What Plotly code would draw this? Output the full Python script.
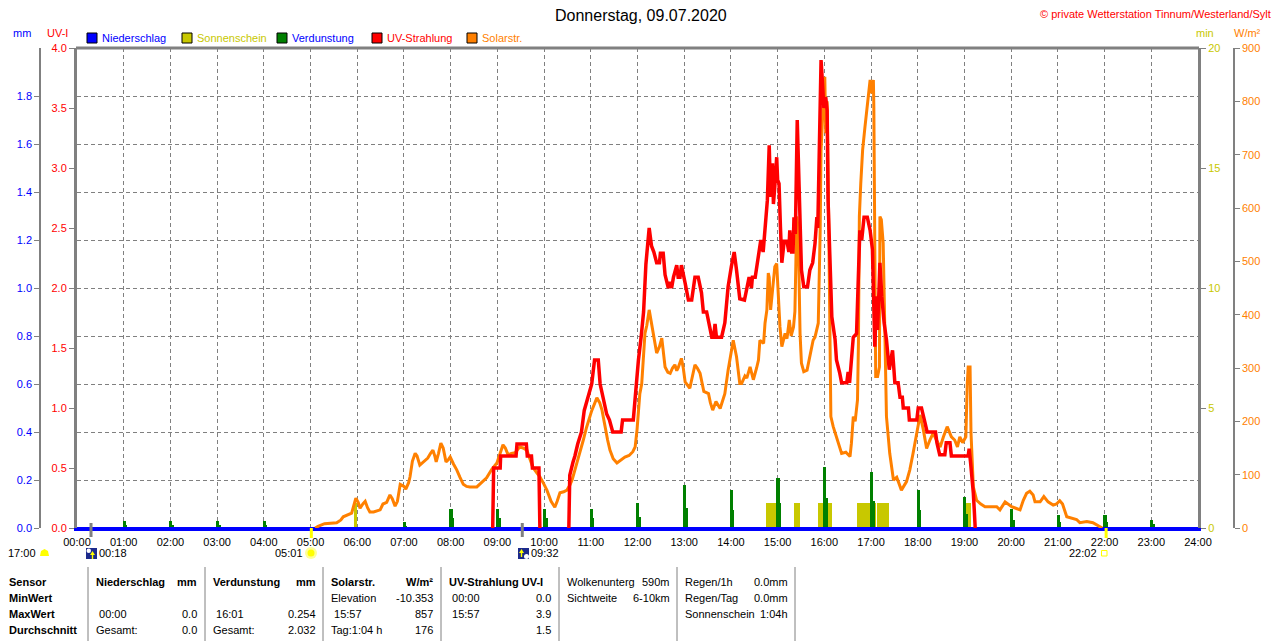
import plotly.graph_objects as go

# Die Seite hat 8px Rand: Figur etwas kleiner und alle Pixelpositionen um 8px verschieben
OFF = 8
W, H = 1280 - OFF, 641 - OFF
FONT = "Liberation Sans, Arial, sans-serif"
GREY = "#808080"
OLIVE = "#c8c800"
ORANGE = "#ff8000"

# ---------------------------------------------------------------- Daten
hour_labels = ["%02d:00" % h for h in range(25)]
mm_ticks = [0.0, 0.2, 0.4, 0.6, 0.8, 1.0, 1.2, 1.4, 1.6, 1.8]
uv_ticks = [0.0, 0.5, 1.0, 1.5, 2.0, 2.5, 3.0, 3.5, 4.0]
min_ticks = [0, 5, 10, 15, 20]
wm2_ticks = [0, 100, 200, 300, 400, 500, 600, 700, 800, 900]

# Sonnenschein (min) - Intervalle in Stunden
sun_start = [5.92, 14.75, 15.36, 15.87, 16.69, 17.13, 19.03]
sun_end = [6.00, 15.07, 15.48, 16.17, 17.10, 17.38, 19.15]
sun_min = [1.05, 1.05, 1.05, 1.05, 1.05, 1.05, 1.05]

# Verdunstung (mm) zur vollen Stunde
evap_hour = [1, 2, 3, 4, 7, 8, 9, 10, 11, 12, 13, 14, 15, 16, 17, 18, 19, 20, 21, 22, 23]
evap_peak = [0.029, 0.029, 0.029, 0.029, 0.026, 0.078, 0.078, 0.078, 0.078, 0.103, 0.180,
             0.158, 0.207, 0.254, 0.232, 0.158, 0.128, 0.078, 0.054, 0.054, 0.033]
evap_tail = [0.012, 0.012, 0.012, 0.012, 0.010, 0.040, 0.040, 0.040, 0.040, 0.046, 0.085,
             0.075, 0.103, 0.125, 0.114, 0.075, 0.060, 0.035, 0.025, 0.025, 0.015]

# Niederschlag (mm)
rain_t = [0, 24]
rain_mm = [0.0, 0.0]

# UV-Strahlung (UV-I), None = Lücke (Wert 0, von der Nulllinie verdeckt)
uv_t = [8.90, 8.92, 9.06, 9.07, 9.40, 9.42, 9.62, 9.64, 9.73, 9.75, 9.89, 9.91, 10.20,
        10.53, 10.55, 10.62, 10.66, 10.72, 10.80, 10.86, 10.95, 11.02, 11.08, 11.16, 11.20,
        11.28, 11.34, 11.40, 11.47, 11.65, 11.68, 11.91, 11.95, 12.02, 12.08, 12.13, 12.18,
        12.22, 12.25, 12.30, 12.35, 12.41, 12.47, 12.49, 12.55, 12.59, 12.63, 12.66, 12.70,
        12.73, 12.77, 12.84, 12.87, 12.91, 12.94, 12.98, 13.02, 13.09, 13.16, 13.23, 13.30,
        13.37, 13.41, 13.48, 13.52, 13.57, 13.59, 13.63, 13.66, 13.69, 13.80, 13.87, 13.94,
        14.01, 14.07, 14.12, 14.19, 14.29, 14.34, 14.39, 14.44, 14.46, 14.52, 14.59, 14.64,
        14.69, 14.73, 14.78, 14.82, 14.85, 14.89, 14.91, 14.94, 14.98, 15.00, 15.03, 15.06,
        15.09, 15.14, 15.20, 15.24, 15.26, 15.30, 15.33, 15.35, 15.38, 15.42, 15.44, 15.49,
        15.51, 15.56, 15.64, 15.69, 15.75, 15.80, 15.84, 15.86, 15.88, 15.91, 15.93, 15.96,
        15.99, 16.03, 16.06, 16.08, 16.12, 16.16, 16.23, 16.26, 16.33, 16.37, 16.48, 16.51,
        16.54, 16.58, 16.62, 16.69, 16.73, 16.76, 16.80, 16.85, 16.92, 16.98, 17.03, 17.06,
        17.08, 17.12, 17.14, 17.19, 17.23, 17.28, 17.33, 17.39, 17.43, 17.46, 17.49, 17.51,
        17.58, 17.62, 17.67, 17.69, 17.80, 17.82, 17.98, 18.01, 18.08, 18.12, 18.16, 18.20,
        18.38, 18.41, 18.47, 18.58, 18.61, 18.69, 18.72, 19.08, 19.10, 19.13, 19.16, 19.19,
        19.21, 19.23]
uv_i = [0, 0.50, 0.50, 0.60, 0.60, 0.70, 0.70, 0.60, 0.60, 0.50, 0.50, 0, None,
        0, 0.44, 0.55, 0.60, 0.70, 0.80, 0.98, 1.10, 1.20, 1.40, 1.40, 1.20,
        1.05, 0.95, 0.90, 0.80, 0.80, 0.90, 0.90, 1.10, 1.40, 1.60, 1.80, 2.20,
        2.35, 2.50, 2.35, 2.30, 2.21, 2.21, 2.29, 2.29, 2.11, 2.05, 2.00, 2.05,
        2.00, 2.09, 2.19, 2.09, 2.09, 2.19, 2.10, 2.04, 1.90, 1.90, 2.09, 2.09,
        1.96, 1.80, 1.80, 1.71, 1.62, 1.59, 1.59, 1.70, 1.59, 1.59, 1.71, 2.01,
        2.18, 2.30, 2.15, 1.91, 1.90, 2.00, 2.09, 2.00, 2.09, 2.09, 2.26, 2.40,
        2.30, 2.54, 2.73, 3.19, 2.76, 3.04, 2.70, 2.85, 3.09, 2.90, 2.87, 2.51,
        2.21, 2.39, 2.39, 2.30, 2.48, 2.30, 2.30, 2.59, 2.45, 3.40, 3.07, 2.40,
        2.15, 2.01, 2.01, 2.15, 2.21, 2.37, 2.59, 2.50, 2.84, 3.51, 3.90, 3.71,
        3.50, 3.59, 3.48, 2.73, 2.32, 1.76, 1.57, 1.40, 1.29, 1.21, 1.21, 1.30,
        1.21, 1.43, 1.59, 1.62, 2.15, 2.48, 2.40, 2.59, 2.59, 2.48, 2.32, 1.68,
        1.51, 1.93, 1.65, 2.21, 1.93, 1.71, 1.57, 1.32, 1.40, 1.48, 1.32, 1.21,
        1.21, 1.09, 1.09, 1.00, 1.00, 0.90, 0.90, 1.00, 1.00, 0.92, 0.87, 0.80,
        0.80, 0.71, 0.61, 0.61, 0.71, 0.71, 0.60, 0.60, 0.66, 0.55, 0.45, 0.29,
        0.15, 0]

# Solarstrahlung (W/m²)
solar_t = [5.10, 5.16, 5.30, 5.56, 5.65, 5.70, 5.88, 5.94, 5.97, 6.02, 6.06, 6.12, 6.17, 6.22,
           6.27, 6.35, 6.49, 6.55, 6.63, 6.70, 6.75, 6.81, 6.86, 6.92, 7.00, 7.04, 7.10, 7.13,
           7.18, 7.24, 7.28, 7.34, 7.42, 7.51, 7.57, 7.62, 7.66, 7.69, 7.74, 7.79, 7.84, 7.90,
           7.95, 7.99, 8.06, 8.13, 8.20, 8.27, 8.34, 8.41, 8.56, 8.65, 8.77, 8.88, 8.99, 9.06,
           9.12, 9.17, 9.23, 9.30, 9.38, 9.48, 9.55, 9.63, 9.69, 9.76, 9.84, 9.91, 9.98, 10.06,
           10.15, 10.23, 10.28, 10.34, 10.42, 10.49, 10.55, 10.60, 10.68, 10.77, 10.84, 10.91,
           11.02, 11.13, 11.19, 11.24, 11.30, 11.36, 11.41, 11.48, 11.56, 11.65, 11.73, 11.82,
           11.90, 11.95, 11.99, 12.05, 12.09, 12.16, 12.20, 12.25, 12.30, 12.34, 12.41, 12.47,
           12.52, 12.59, 12.65, 12.70, 12.75, 12.80, 12.84, 12.87, 12.94, 12.98, 13.02, 13.12,
           13.18, 13.23, 13.28, 13.34, 13.42, 13.52, 13.56, 13.61, 13.68, 13.77, 13.87, 13.94,
           14.05, 14.12, 14.19, 14.23, 14.30, 14.34, 14.41, 14.44, 14.48, 14.55, 14.59, 14.62,
           14.70, 14.73, 14.77, 14.80, 14.82, 14.85, 14.89, 14.94, 14.98, 15.00, 15.05, 15.09,
           15.16, 15.20, 15.25, 15.29, 15.34, 15.37, 15.41, 15.44, 15.48, 15.51, 15.56, 15.63,
           15.69, 15.76, 15.80, 15.87, 15.91, 15.93, 15.98, 16.01, 16.03, 16.06, 16.09, 16.11,
           16.14, 16.19, 16.23, 16.30, 16.37, 16.46, 16.55, 16.58, 16.62, 16.66, 16.71, 16.73,
           16.75, 16.78, 16.82, 16.87, 16.91, 16.94, 16.98, 17.01, 17.05, 17.06, 17.08, 17.10,
           17.14, 17.18, 17.19, 17.22, 17.26, 17.30, 17.33, 17.40, 17.48, 17.55, 17.65, 17.76,
           17.83, 17.90, 17.98, 18.05, 18.12, 18.19, 18.26, 18.33, 18.40, 18.48, 18.55, 18.63,
           18.72, 18.79, 18.85, 18.90, 18.96, 19.03, 19.06, 19.08, 19.12, 19.14, 19.19, 19.26,
           19.35, 19.44, 19.69, 19.76, 19.87, 19.94, 20.01, 20.10, 20.19, 20.26, 20.33, 20.40,
           20.47, 20.51, 20.62, 20.70, 20.79, 20.90, 20.97, 21.04, 21.10, 21.19, 21.29, 21.40,
           21.47, 21.62, 21.75, 21.90, 21.95]
solar_w = [0, 3, 8, 10, 15, 21, 28, 45, 56, 48, 37, 45, 50, 38,
           30, 30, 34, 45, 48, 62, 55, 41, 50, 82, 78, 73, 85, 96,
           125, 140, 135, 118, 125, 131, 140, 146, 135, 124, 140, 159, 150, 124,
           128, 133, 120, 109, 95, 82, 78, 77, 77, 85, 94, 110, 122, 140,
           156, 150, 137, 140, 141, 152, 150, 146, 130, 114, 104, 96, 85, 71,
           50, 39, 50, 66, 68, 71, 80, 90, 115, 141, 165, 189,
           220, 244, 235, 221, 189, 165, 146, 130, 122, 128, 133, 136,
           143, 152, 184, 252, 270, 365, 380, 409, 385, 365, 328, 340,
           356, 302, 292, 290, 300, 306, 295, 300, 318, 300, 274, 262,
           285, 306, 300, 290, 256, 252, 235, 221, 237, 224, 252, 296,
           352, 321, 271, 271, 285, 281, 302, 290, 278, 300, 315, 352,
           346, 384, 409, 478, 470, 409, 446, 490, 496, 459, 377, 340,
           365, 355, 390, 360, 377, 406, 584, 560, 365, 309, 293, 296,
           321, 352, 358, 384, 553, 709, 802, 846, 740, 800, 600, 446,
           209, 190, 178, 159, 140, 142, 134, 159, 209, 200, 240, 346,
           584, 646, 709, 752, 784, 815, 840, 815, 840, 790, 521, 284,
           284, 302, 584, 578, 534, 334, 209, 140, 90, 95, 71, 87,
           109, 140, 178, 212, 184, 149, 165, 178, 165, 152, 171, 190,
           171, 165, 152, 171, 160, 171, 271, 302, 302, 178, 77, 52,
           45, 40, 40, 34, 49, 45, 40, 37, 34, 52, 65, 69,
           62, 49, 49, 59, 49, 43, 45, 51, 45, 21, 18, 16,
           10, 12, 10, 2, 0]

# Sonne / Mond (Stunden)
moon_times = [0.30, 9.533]
sun_times = [5.017, 22.033]

legend_items = [("Niederschlag", "#0000ff", "#0000ff"), ("Sonnenschein", OLIVE, OLIVE),
                ("Verdunstung", "#008000", "#0000ff"), ("UV-Strahlung", "#ff0000", "#ff0000"),
                ("Solarstr.", ORANGE, ORANGE)]

# Tabelle unten: (x links, Texte, fett) / (x rechts, Texte)
table_left = [
    (8, ["Sensor", "MinWert", "MaxWert", "Durchschnitt"], True),
    (95, ["<b>Niederschlag</b>", "", " 00:00", "Gesamt:"], False),
    (212, ["<b>Verdunstung</b>", "", " 16:01", "Gesamt:"], False),
    (330, ["<b>Solarstr.</b>", "Elevation", " 15:57", "Tag:1:04 h"], False),
    (448, ["<b>UV-Strahlung UV-I</b>", " 00:00", " 15:57", ""], False),
    (566, ["Wolkenunterg", "Sichtweite", "", ""], False),
    (684, ["Regen/1h", "Regen/Tag", "Sonnenschein", ""], False),
]
table_right = [
    (198, ["<b>mm</b>", "", "0.0", "0.0"]),
    (317, ["<b>mm</b>", "", "0.254", "2.032"]),
    (434, ["<b>W/m²</b>", "-10.353", "857", "176"]),
    (552, ["", "0.0", "3.9", "1.5"]),
    (671, ["590m", "6-10km", "", ""]),
    (789, ["0.0mm", "0.0mm", "1:04h", ""]),
]
table_rows_y = [581.5, 597.5, 613.5, 629.5]
table_seps = [88, 205, 323, 441, 559, 677, 795]


def px(x):
    return (x - OFF) / W


def py(y):
    return 1 - (y - OFF) / H


X0, X1, YT, YB = 77, 1198, 48, 528
xdom = [px(X0), px(X1)]
ydom = [py(YB), py(YT)]

fig = go.Figure()

fig.add_trace(go.Bar(
    x=[(s + e) / 2 for s, e in zip(sun_start, sun_end)], y=sun_min,
    width=[e - s for s, e in zip(sun_start, sun_end)],
    marker=dict(color=OLIVE, line_width=0), yaxis="y"))
fig.add_trace(go.Bar(
    x=[h + 0.008 for h in evap_hour], y=evap_peak, width=0.067,
    marker=dict(color="#008000", line_width=0), yaxis="y2"))
fig.add_trace(go.Bar(
    x=[h + 0.058 for h in evap_hour], y=evap_tail, width=0.033,
    marker=dict(color="#008000", line_width=0), yaxis="y2"))
fig.add_trace(go.Scatter(
    x=rain_t, y=rain_mm, mode="lines", line=dict(color="#0000ff", width=2), yaxis="y2"))
fig.add_trace(go.Scatter(
    x=solar_t, y=solar_w, mode="lines", line=dict(color=ORANGE, width=3), yaxis="y3"))
fig.add_trace(go.Scatter(
    x=uv_t, y=uv_i, mode="lines", line=dict(color="#ff0000", width=3.5), yaxis="y4",
    connectgaps=False))

tick_font = dict(family=FONT, size=11)
common_y = dict(domain=ydom, ticks="outside", ticklen=5, tickcolor=GREY,
                zeroline=False, fixedrange=True, automargin=False)

fig.update_layout(
    width=W, height=H, margin=dict(l=0, r=0, t=0, b=0, autoexpand=False),
    paper_bgcolor="white", plot_bgcolor="white", showlegend=False,
    barmode="overlay", bargap=0,
    font=dict(family=FONT, size=11, color="black"),
    xaxis=dict(domain=xdom, range=[0, 24], anchor="y", automargin=False,
               tickvals=list(range(25)), ticktext=hour_labels,
               tickfont=dict(tick_font, color="black"),
               ticks="outside", ticklen=2, tickcolor="rgba(0,0,0,0)",
               showgrid=True, gridcolor=GREY, gridwidth=1, griddash="4px,3px",
               showline=True, linecolor="#0000ff", linewidth=2.5, zeroline=False),
    yaxis=dict(common_y, range=[0, 20], side="right", anchor="x",
               tickvals=min_ticks, tickfont=dict(tick_font, color=OLIVE),
               showline=True, linecolor=GREY, linewidth=3, showgrid=False),
    yaxis2=dict(common_y, range=[0, 2], side="left", anchor="free", overlaying="y",
                position=px(40), tickvals=mm_ticks, tickformat=".1f",
                tickfont=dict(tick_font, color="#0000ff"),
                showline=True, linecolor=GREY, linewidth=1.5,
                showgrid=True, gridcolor=GREY, gridwidth=1, griddash="4px,3px"),
    yaxis3=dict(common_y, range=[0, 900], side="right", anchor="free", overlaying="y",
                position=px(1234), tickvals=wm2_ticks,
                tickfont=dict(tick_font, color=ORANGE),
                showline=True, linecolor=GREY, linewidth=1.5, showgrid=False),
    yaxis4=dict(common_y, range=[0, 4], side="left", anchor="x", overlaying="y",
                tickvals=uv_ticks, tickformat=".1f",
                tickfont=dict(tick_font, color="#ff0000"),
                showline=True, linecolor=GREY, linewidth=3, showgrid=False),
)

shapes = []
annos = []


def text(x, y, s, color="black", size=11, anchor="left", bold=False):
    if bold:
        s = "<b>%s</b>" % s
    annos.append(dict(x=px(x), y=py(y), xref="paper", yref="paper", text=s,
                      showarrow=False, xanchor=anchor, yanchor="middle",
                      font=dict(family=FONT, size=size, color=color), borderpad=0))


def rect(x0, y0, x1, y1, fill, line=None, lw=1):
    shapes.append(dict(type="rect", xref="paper", yref="paper",
                       x0=px(x0), x1=px(x1), y0=py(y1), y1=py(y0),
                       fillcolor=fill, line=dict(color=line or fill, width=lw if line else 0)))


def path(pts, fill, line=None):
    d = "M " + " L ".join("%.5f,%.5f" % (px(a), py(b)) for a, b in pts) + " Z"
    shapes.append(dict(type="path", xref="paper", yref="paper", path=d,
                       fillcolor=fill, line=dict(color=line or fill, width=1 if line else 0)))


# Rahmen oben
shapes.append(dict(type="line", xref="paper", yref="paper", x0=px(X0 - 1), x1=px(X1 + 1),
                   y0=py(YT), y1=py(YT), line=dict(color=GREY, width=3)))

# Titel
text(641, 16, "Donnerstag, 09.07.2020", size=16, anchor="center")
text(1272, 14, "© private Wetterstation Tinnum/Westerland/Sylt", color="#ff0000", anchor="right")

# Achsentitel
text(22, 33, "mm", color="#0000ff", anchor="center")
text(57, 33, "UV-I", color="#ff0000", anchor="center")
text(1205, 33, "min", color=OLIVE, anchor="center")
text(1247, 33, "W/m²", color=ORANGE, anchor="center")

# Legende
lx = 87
for name, box, col in legend_items:
    rect(lx, 33, lx + 10, 43, box, line="black", lw=1)
    text(lx + 14, 38, name, color=col)
    lx += 95

# Sonne / Mond unter der Achse
for t in moon_times:
    shapes.append(dict(type="line", xref="x", yref="paper", x0=t, x1=t,
                       y0=py(537), y1=py(523), line=dict(color=GREY, width=3)))
for t in sun_times:
    shapes.append(dict(type="line", xref="x", yref="paper", x0=t, x1=t,
                       y0=py(538), y1=py(528), line=dict(color="#ffff00", width=3)))

text(37, 553, "17:00", anchor="right")
path([(40, 556), (41, 551), (44.5, 549), (48, 551), (49, 556)], "#ffff00")

rect(86, 548, 97, 559, "#1c2a8c")
shapes.append(dict(type="circle", xref="paper", yref="paper", x0=px(86.5), x1=px(91),
                   y0=py(553), y1=py(548.5), fillcolor="white", line_width=0))
path([(92.5, 551), (90, 555), (95, 555)], "#ffff00")
rect(91.8, 555, 93.2, 559, "#ffff00")
text(98, 553, "00:18")

text(304, 553, "05:01", anchor="right")
shapes.append(dict(type="circle", xref="paper", yref="paper", x0=px(305), x1=px(317),
                   y0=py(559), y1=py(547), fillcolor="#ffff99", line_width=0))
shapes.append(dict(type="circle", xref="paper", yref="paper", x0=px(307.5), x1=px(314.5),
                   y0=py(556.5), y1=py(549.5), fillcolor="#ffff00", line_width=0))

rect(518, 548, 529, 559, "#1c2a8c")
path([(521.5, 549), (519, 553), (524, 553)], "#ffff00")
rect(520.8, 553, 522.2, 557, "#ffff00")
shapes.append(dict(type="circle", xref="paper", yref="paper", x0=px(524), x1=px(529),
                   y0=py(559), y1=py(554), fillcolor="white", line_width=0))
text(530, 553, "09:32")

text(1098, 553, "22:02", anchor="right")
rect(1101.5, 550.5, 1107, 556, "rgba(0,0,0,0)", line="#ffff00", lw=1)

# Tabelle
for x in table_seps:
    shapes.append(dict(type="line", xref="paper", yref="paper", x0=px(x), x1=px(x),
                       y0=py(641), y1=py(567), line=dict(color=GREY, width=1)))
for x, cells, bold in table_left:
    for y, s in zip(table_rows_y, cells):
        if s:
            text(x, y, s, bold=bold)
for x, cells in table_right:
    for y, s in zip(table_rows_y, cells):
        if s:
            text(x, y, s, anchor="right")

fig.update_layout(shapes=shapes, annotations=annos)

fig.write_html("out.html")
